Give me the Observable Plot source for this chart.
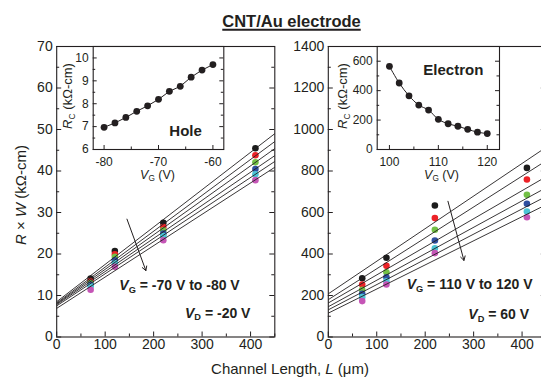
<!DOCTYPE html>
<html><head><meta charset="utf-8">
<script src="https://cdn.jsdelivr.net/npm/d3@7"></script>
<script src="https://cdn.jsdelivr.net/npm/@observablehq/plot@0.6"></script>
<style>
html,body{margin:0;padding:0;background:#fff;}
#root{position:relative;width:541px;height:380px;overflow:hidden;background:#fff;font-family:"Liberation Sans",Arial,Helvetica,sans-serif;color:#231f20;}
.abs{position:absolute;white-space:nowrap;line-height:1;}
.abs svg{display:block;}
.sub{font-size:0.66em;position:relative;top:0.3em;}
</style></head><body><div id="root"></div>
<script>
// ---------- data ----------
const channelL = [70, 120, 220, 410];               // µm
const seriesColors = ["#1c1c1c", "#ec2227", "#73c045", "#2f4fa0", "#4bc4d5", "#c555b6"];

// Hole (left) panel: VG = -70 ... -80 V
const holeVG = [-70, -72, -74, -76, -78, -80];
const holeRW_70 = [14.1, 20.7, 27.5, 45.5];
const holeRW_72 = [13.5, 19.9, 26.5, 43.8];
const holeRW_74 = [13.0, 19.3, 25.7, 42.1];
const holeRW_76 = [12.6, 18.5, 24.9, 40.5];
const holeRW_78 = [12.2, 17.8, 24.3, 39.2];
const holeRW_80 = [11.4, 16.9, 23.3, 37.8];
const holeFitStart = [8.5, 8.2, 8.0, 7.8, 7.5, 6.9];   // R×W at L = 0
const holeFitEnd = [49.0, 47.1, 45.4, 43.7, 42.3, 40.9]; // R×W at L = 450

// Electron (right) panel: VG = 110 ... 120 V
const elecVG = [110, 112, 114, 116, 118, 120];
const elecRW_110 = [283, 382, 634, 815];
const elecRW_112 = [253, 343, 573, 759];
const elecRW_114 = [227, 312, 517, 685];
const elecRW_116 = [208, 288, 465, 642];
const elecRW_118 = [192, 269, 428, 605];
const elecRW_120 = [173, 253, 404, 577];
const elecFitStart = [208, 180, 164, 146, 131, 115];
const elecFitEnd = [915, 850, 773, 720, 678, 638];
const fitL = [0, 450];

// Insets: contact resistance vs gate voltage
const insetHoleVG = [-80, -78, -76, -74, -72, -70, -68, -66, -64, -62, -60];
const insetHoleRc = [6.97, 7.16, 7.40, 7.67, 7.91, 8.19, 8.54, 8.76, 9.16, 9.47, 9.71];
const insetElecVG = [100, 102, 104, 106, 108, 110, 112, 114, 116, 118, 120];
const insetElecRc = [565, 452, 365, 302, 268, 205, 175, 158, 137, 118, 108];

// Annotation arrows (data coordinates: [L1, RW1, L2, RW2])
const holeArrow = [145, 28.4, 184, 16];
const elecArrow = [247, 654, 280, 369];

// ticks
const xMajor = [0, 100, 200, 300, 400];
const xMinor = [50, 150, 250, 350, 450];
const holeYMajor = [0, 10, 20, 30, 40, 50, 60, 70];
const holeYMinor = [5, 15, 25, 35, 45, 55, 65];
const elecYMajor = [0, 200, 400, 600, 800, 1000, 1200, 1400];
const elecYMinor = [100, 300, 500, 700, 900, 1100, 1300];

// ---------- helpers ----------
const INK = "#231f20";
const root = document.getElementById("root");
const FONT = '"Liberation Sans", Arial, Helvetica, sans-serif';
const plain = d => String(d);

function place(node, left, top) {
  const d = document.createElement("div");
  d.className = "abs";
  d.style.left = left + "px";
  d.style.top = top + "px";
  d.appendChild(node);
  root.appendChild(d);
  return d;
}
function label(html, x, y, {size = 14, weight = "normal", anchor = "middle", rotate = 0, extra = ""} = {}) {
  const d = document.createElement("div");
  d.className = "abs";
  d.innerHTML = html;
  d.style.left = x + "px";
  d.style.top = y + "px";
  d.style.fontSize = size + "px";
  d.style.fontWeight = weight;
  const tx = anchor === "middle" ? "-50%" : anchor === "end" ? "-100%" : "0";
  d.style.transform = `translate(${tx},-50%)` + (rotate ? ` rotate(${rotate}deg)` : "");
  if (extra) d.style.cssText += extra;
  root.appendChild(d);
  return d;
}

function buildSeries(vgs, arrays) {
  const rows = [];
  vgs.forEach((vg, i) => arrays[i].forEach((v, j) => rows.push({vg, L: channelL[j], rw: v, color: seriesColors[i]})));
  return rows;
}
function buildFits(vgs, start, end) {
  return vgs.map((vg, i) => ({vg, x1: fitL[0], y1: start[i], x2: fitL[1], y2: end[i]}));
}

function mainPanel({left, width, ml, mr, yDomain, yMajor, yMinor, rows, fits, arrow}) {
  const height = 380, mt = 46, mb = 43.5;
  const iw = width - ml - mr, ih = height - mt - mb;
  const svg = Plot.plot({
    width, height, marginLeft: ml, marginRight: mr, marginTop: mt, marginBottom: mb,
    style: {background: "transparent", maxWidth: "none", overflow: "visible", fontFamily: FONT, fontSize: "14px", color: INK},
    color: {type: "identity"},
    x: {domain: [0, 450], ticks: xMajor, tickFormat: plain, tickSize: 0, tickPadding: 2.5, label: null},
    y: {domain: yDomain, ticks: yMajor, tickFormat: plain, tickSize: 0, tickPadding: 4, label: null},
    marks: [
      Plot.tickX(xMajor, {insetTop: ih - 5, stroke: INK}),
      Plot.tickX(xMinor, {insetTop: ih - 3, stroke: INK}),
      Plot.tickY(yMajor, {insetRight: iw - 5, stroke: INK}),
      Plot.tickY(yMinor, {insetRight: iw - 3, stroke: INK}),
      Plot.tickY(yMajor, {insetLeft: iw - 5, stroke: INK}),
      Plot.tickY(yMinor, {insetLeft: iw - 3, stroke: INK}),
      Plot.dot(rows, {x: "L", y: "rw", fill: "color", r: 3.3}),
      Plot.link(fits, {x1: "x1", y1: "y1", x2: "x2", y2: "y2", stroke: INK, strokeWidth: 0.9}),
      Plot.arrow([arrow], {x1: d => d[0], y1: d => d[1], x2: d => d[2], y2: d => d[3], stroke: INK, strokeWidth: 1, headLength: 7}),
      Plot.frame({stroke: INK, strokeWidth: 1.1})
    ]
  });
  place(svg, left, 0);
}

function insetPanel({left, width, ml, mr, xDomain, yDomain, xMajor, xMinor, yMajor, yMinor, xs, ys, curve}) {
  const height = 190, mt = 46, mb = 41;
  const iw = width - ml - mr, ih = height - mt - mb;
  const data = xs.map((x, i) => ({x, y: ys[i]}));
  const svg = Plot.plot({
    width, height, marginLeft: ml, marginRight: mr, marginTop: mt, marginBottom: mb,
    style: {background: "transparent", maxWidth: "none", overflow: "visible", fontFamily: FONT, fontSize: "12px", color: INK},
    x: {domain: xDomain, ticks: xMajor, tickFormat: plain, tickSize: 0, tickPadding: 8, label: null},
    y: {domain: yDomain, ticks: yMajor, tickFormat: plain, tickSize: 0, tickPadding: 4.5, label: null},
    marks: [
      Plot.frame({fill: "white", stroke: "none"}),
      Plot.tickX(xMajor, {insetTop: ih - 4, stroke: INK}),
      Plot.tickX(xMinor, {insetTop: ih - 2.5, stroke: INK}),
      Plot.tickY(yMajor, {insetRight: iw - 4, stroke: INK}),
      Plot.tickY(yMinor, {insetRight: iw - 2.5, stroke: INK}),
      Plot.tickY(yMajor, {insetLeft: iw - 4, stroke: INK}),
      Plot.tickY(yMinor, {insetLeft: iw - 2.5, stroke: INK}),
      Plot.line(data, {x: "x", y: "y", stroke: INK, strokeWidth: 1, curve}),
      Plot.dot(data, {x: "x", y: "y", fill: INK, r: 3.4}),
      Plot.frame({stroke: INK, strokeWidth: 1.1})
    ]
  });
  place(svg, left, 0);
}

// ---------- panels ----------
mainPanel({
  left: 0, width: 290, ml: 56.2, mr: 290 - 274.3,
  yDomain: [0, 70], yMajor: holeYMajor, yMinor: holeYMinor,
  rows: buildSeries(holeVG, [holeRW_70, holeRW_72, holeRW_74, holeRW_76, holeRW_78, holeRW_80]),
  fits: buildFits(holeVG, holeFitStart, holeFitEnd),
  arrow: holeArrow
});
mainPanel({
  left: 280, width: 280, ml: 47.8, mr: 280 - (545.8 - 280),
  yDomain: [0, 1400], yMajor: elecYMajor, yMinor: elecYMinor,
  rows: buildSeries(elecVG, [elecRW_110, elecRW_112, elecRW_114, elecRW_116, elecRW_118, elecRW_120]),
  fits: buildFits(elecVG, elecFitStart, elecFitEnd),
  arrow: elecArrow
});

insetPanel({
  left: 40, width: 200, ml: 52.7, mr: 200 - (223.3 - 40),
  xDomain: [-82, -58], yDomain: [6, 10.5],
  xMajor: [-80, -70, -60], xMinor: [-75, -65],
  yMajor: [6, 7, 8, 9, 10], yMinor: [6.5, 7.5, 8.5, 9.5],
  xs: insetHoleVG, ys: insetHoleRc, curve: "linear"
});
insetPanel({
  left: 320, width: 200, ml: 56.7, mr: 200 - (499 - 320),
  xDomain: [97.5, 122.5], yDomain: [0, 700],
  xMajor: [100, 110, 120], xMinor: [105, 115],
  yMajor: [0, 200, 400, 600], yMinor: [100, 300, 500],
  xs: insetElecVG, ys: insetElecRc, curve: "catmull-rom"
});

// ---------- texts ----------
label("CNT/Au electrode", 291.5, 20.5, {size: 16.5, weight: "bold", extra: "text-decoration:underline;text-decoration-thickness:1.5px;text-underline-offset:2px;"});
label('<i>R</i> × <i>W</i> (kΩ-cm)', 20, 195, {size: 15, rotate: -90});
label('Channel Length, <i>L</i> (μm)', 290, 368, {size: 15});

label('<i>R</i><span class="sub">C</span> (kΩ-cm)', 66.7, 96, {size: 13, rotate: -90});
label('<i>V</i><span class="sub">G</span> (V)', 157.5, 175, {size: 12.5});
label('<i>R</i><span class="sub">C</span> (kΩ-cm)', 341.7, 96, {size: 13, rotate: -90});
label('<i>V</i><span class="sub">G</span> (V)', 441.5, 175, {size: 12.5});

label("Hole", 169.3, 130, {size: 15, weight: "bold", anchor: "start"});
label("Electron", 423.3, 69.3, {size: 15, weight: "bold", anchor: "start"});

label('<i>V</i><span class="sub">G</span> = -70 V to -80 V', 119.3, 285, {size: 14, weight: "bold", anchor: "start"});
label('<i>V</i><span class="sub">D</span> = -20 V', 185, 312.7, {size: 14, weight: "bold", anchor: "start"});
label('<i>V</i><span class="sub">G</span> = 110 V to 120 V', 406.7, 284, {size: 14, weight: "bold", anchor: "start"});
label('<i>V</i><span class="sub">D</span> = 60 V', 468.3, 314, {size: 14, weight: "bold", anchor: "start"});
</script></body></html>
